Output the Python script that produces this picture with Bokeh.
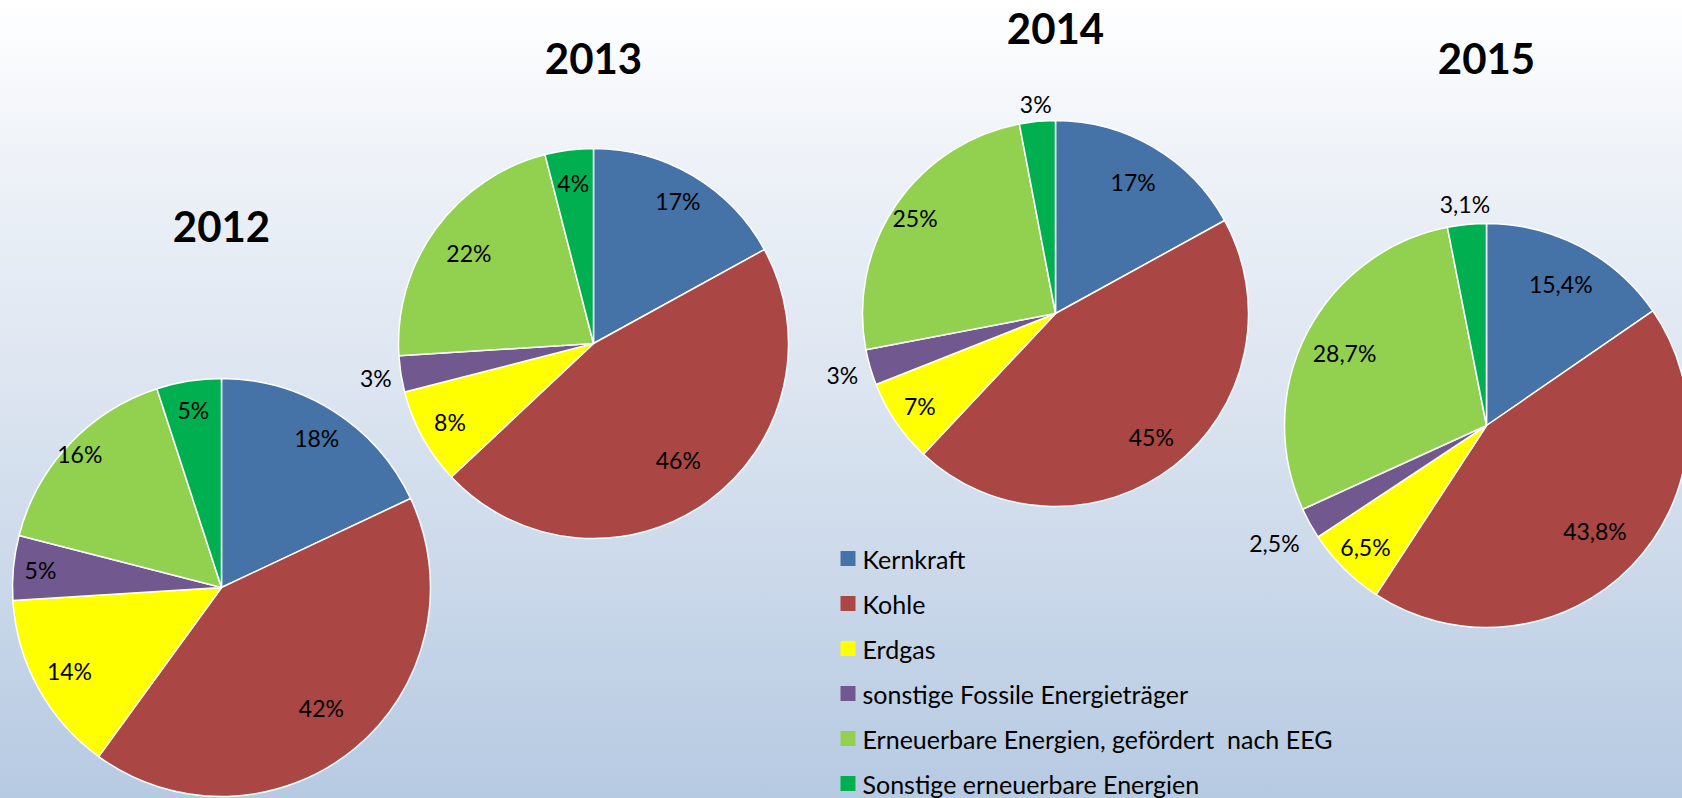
import math
from bokeh.plotting import figure
from bokeh.models import Range1d, ColumnDataSource
from bokeh.core.properties import value
from bokeh.embed import file_html
from bokeh.resources import INLINE

# ---------------- data ----------------
categories = [
    "Kernkraft",
    "Kohle",
    "Erdgas",
    "sonstige Fossile Energieträger",
    "Erneuerbare Energien, gefördert  nach EEG",
    "Sonstige erneuerbare Energien",
]
years = ["2012", "2013", "2014", "2015"]
share_2012 = [18, 42, 14, 5, 16, 5]
share_2013 = [17, 46, 8, 3, 22, 4]
share_2014 = [17, 45, 7, 3, 25, 3]
share_2015 = [15.4, 43.8, 6.5, 2.5, 28.7, 3.1]
label_decimals = [0, 0, 0, 1]

colors = ["#4572A7", "#AA4643", "#FFFF00", "#71588F", "#92D050", "#00B050"]

# ---------------- layout (screen px, y downward) ----------------
W, H = 1682, 798
pie_cx = [221, 593, 1055, 1486]
pie_cy = [587, 343, 313, 425]
pie_r = [209, 195, 193, 202]
title_cy = [226, 58, 28, 58]
label_factor = [
    [0.85, 0.75, 0.83, 0.87, 0.93, 0.86],
    [0.85, 0.74, 0.84, 1.13, 0.79, 0.83],
    [0.79, 0.81, 0.85, 1.15, 0.88, 1.09],
    [0.79, 0.75, 0.85, 1.20, 0.79, 1.10],
]
legend_x = 847.5
legend_text_x = 862
legend_y0 = 558
legend_dy = 45

shares = [share_2012, share_2013, share_2014, share_2015]

p = figure(width=W, height=H, output_backend="svg", toolbar_location=None,
           x_range=Range1d(0, W), y_range=Range1d(0, H),
           x_axis_type=None, y_axis_type=None, min_border=0)
p.grid.visible = False
p.outline_line_color = None
p.background_fill_color = None
p.border_fill_color = None
p.styles = {"background": "linear-gradient(to bottom, #ffffff 0%, #eef2f8 20%, #dbe4f0 50%, #b6cae2 100%)"}

def fmt(v, d):
    if d == 0:
        return f"{int(round(v))}%"
    return f"{v:.{d}f}".replace(".", ",") + "%"

for k, vals in enumerate(shares):
    total = float(sum(vals))
    cx, cy, r = pie_cx[k], H - pie_cy[k], pie_r[k]
    starts, ends, lx, ly, labels = [], [], [], [], []
    cum = 0.0
    for i, v in enumerate(vals):
        a0 = cum / total
        a1 = (cum + v) / total
        mid = (a0 + a1) / 2
        starts.append(math.pi / 2 - 2 * math.pi * a0)
        ends.append(math.pi / 2 - 2 * math.pi * a1)
        th = math.pi / 2 - 2 * math.pi * mid
        f = label_factor[k][i]
        lx.append(cx + f * r * math.cos(th))
        ly.append(cy + f * r * math.sin(th))
        labels.append(fmt(v, label_decimals[k]))
        cum += v
    src = ColumnDataSource(dict(x=[cx] * len(vals), y=[cy] * len(vals),
                                start=starts, end=ends, color=colors))
    p.wedge(x="x", y="y", radius=r, start_angle="start", end_angle="end",
            direction="clock", fill_color="color", line_color="white",
            line_width=1.5, source=src)
    p.text(x=lx, y=ly, text=labels, text_font=value("Lato"), text_font_size="23px",
           text_align="center", text_baseline="middle", text_color="black")
    p.text(x=[cx], y=[H - title_cy[k]], text=[years[k]], text_font=value("Lato"),
           text_font_size="42px", text_font_style="bold", text_align="center",
           text_baseline="middle", text_color="black")

# legend
ly_leg = [H - (legend_y0 + legend_dy * i) for i in range(len(categories))]
leg_text = [c.replace("  ", " \u00a0") for c in categories]
p.rect(x=[legend_x] * len(categories), y=ly_leg, width=15, height=15,
       width_units="screen", height_units="screen", fill_color=colors, line_color=None)
p.text(x=[legend_text_x] * len(categories), y=ly_leg, text=leg_text,
       text_font=value("Lato"), text_font_size="25px", text_align="left",
       text_baseline="middle", text_color="black")

open("out.html", "w").write(file_html(p, INLINE))
